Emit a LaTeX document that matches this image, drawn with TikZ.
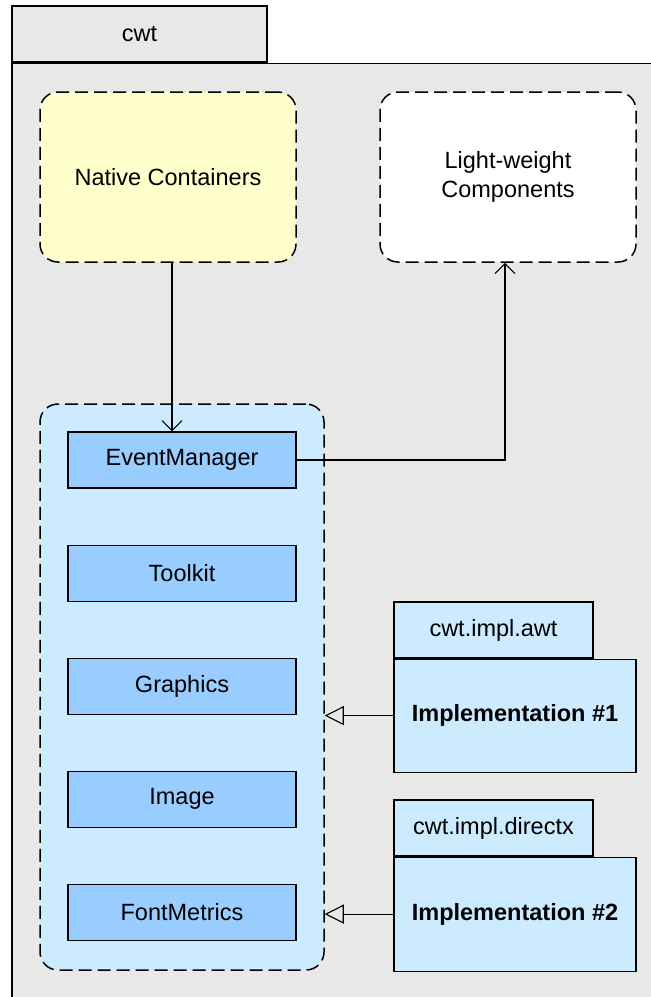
\documentclass[tikz,border=0pt]{standalone}
\usepackage{fontspec}
\setmainfont{Liberation Sans}
\usepackage{xcolor}
\usetikzlibrary{positioning,arrows.meta,calc}

\definecolor{pkggray}{HTML}{E8E8E8}
\definecolor{nativeyellow}{HTML}{FFFFCC}
\definecolor{apiblue}{HTML}{CCEBFF}
\definecolor{clsblue}{HTML}{99CCFF}

\begin{document}
\begin{tikzpicture}[x=1pt, y=-1pt,
      every node/.style={font=\fontsize{23.5}{29}\selectfont, line width=1.1pt},
      pkgtab/.style={draw, fill=pkggray, minimum width=255pt, minimum height=56pt, inner sep=0pt},
      pkgbody/.style={draw, fill=pkggray, minimum width=650pt, minimum height=950pt,
                    anchor=north west, inner sep=0pt},
      group/.style={draw, line width=1.5pt, dash pattern=on 13pt off 6pt, rounded corners=18pt,
                    align=center, inner sep=0pt},
      cls/.style={draw, fill=clsblue, minimum width=228pt, minimum height=56pt, inner sep=0pt},
      impltab/.style={draw, fill=apiblue, minimum width=199pt, minimum height=56pt, inner sep=0pt},
      implbody/.style={draw, fill=apiblue, minimum width=242pt, minimum height=113pt,
                    inner sep=0pt, font=\fontsize{23.5}{29}\selectfont\bfseries},
      arrow/.style={-{Straight Barb[length=10pt, width=20pt]}, line width=1.1pt},
      realize/.style={-{Triangle[open, length=19pt, width=19pt]}, line width=1.1pt},
      node distance=56pt
  ]
  \useasboundingbox (0,0) rectangle (651,997);
  \fill[white] (0,0) rectangle (651,997);

  %% ---- Package cwt ----
  \node[pkgtab] (cwttab) at (139.5,34) {cwt};
  \node[pkgbody] (cwt) at (cwttab.south west) {};

  %% ---- Native / light-weight side ----
  \node[group, fill=nativeyellow, minimum width=256pt, minimum height=170pt] (native)
      at (168,177) {Native Containers};
  \node[group, fill=white, minimum width=256pt, minimum height=170pt] (light)
      at (508,177) {Light-weight\\Components};

  %% ---- API classes ----
  \node[group, fill=apiblue, minimum width=284pt, minimum height=566pt] (api) at (182,687) {};
  \node[cls] (events) at (182,460) {EventManager};
  \node[cls, below=of events] (toolkit) {Toolkit};
  \node[cls, below=of toolkit] (graphics) {Graphics};
  \node[cls, below=of graphics] (image) {Image};
  \node[cls, below=of image] (metrics) {FontMetrics};

  %% ---- Implementations ----
  \node[impltab] (awttab) at (493.5,630) {cwt.impl.awt};
  \node[implbody, anchor=north west] (impl1) at (awttab.south west) {Implementation \#1};
  \node[impltab] (dxtab) at (493.5,828) {cwt.impl.directx};
  \node[implbody, anchor=north west, minimum height=114pt] (impl2) at (dxtab.south west)
      {Implementation \#2};

  %% ---- Connections ----
  \draw[arrow] ([xshift=4pt]native.south) -- ([xshift=4pt]native.south |- events.north);
  \draw[arrow] (events.east) -| ([xshift=-3pt]light.south);
  \draw[realize] (impl1.west) -- (impl1.west -| api.east);
  \draw[realize] (impl2.west) -- (impl2.west -| api.east);

\end{tikzpicture}
\end{document}
